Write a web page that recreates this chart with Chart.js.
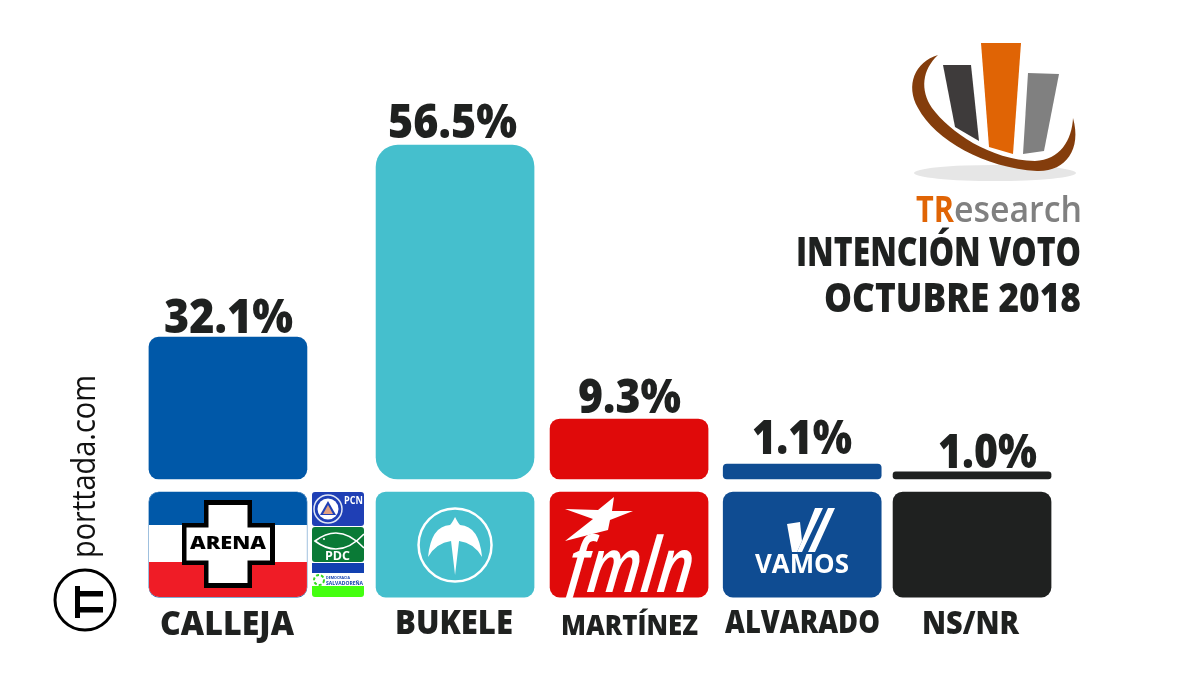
<!DOCTYPE html>
<html lang="es">
<head>
<meta charset="utf-8">
<title>Intención voto octubre 2018</title>
<script src="https://cdn.jsdelivr.net/npm/chart.js@4/dist/chart.umd.min.js"></script>
<style>
  html, body { margin: 0; background: #fff; }
  canvas { display: block; }
</style>
</head>
<body>
<canvas id="grafico" width="1200" height="700"></canvas>
<script>
const candidatos = ['CALLEJA', 'BUKELE', 'MARTÍNEZ', 'ALVARADO', 'NS/NR'];
const etiquetas = ['32.1%', '56.5%', '9.3%', '1.1%', '1.0%'];
// las barras del original no son proporcionales a su etiqueta: alturas
const alturas = [24.0, 56.5, 10.15, 2.54, 1.2];
const columnas = [0, 1.305, 2.305, 3.3, 4.276];
const fondoLogo = [-2.2, -20];

const colores = ['#0058a8', '#45bfcd', '#e00a0a', '#0f4c92', '#1f2120'];
const radios = [10, 22, 10, 4, 3];
const NEGRO = '#1f2120';
const FUENTE = '"Open Sans"';

// texto ajustado a un ancho dado, como en el original (tipografia mas estrecha)
function texto(ctx, str, x0, x1, base, font, color) {
  ctx.save();
  ctx.font = font;
  ctx.fillStyle = color;
  ctx.textAlign = 'left';
  ctx.textBaseline = 'alphabetic';
  const w = ctx.measureText(str).width;
  ctx.translate(x0, base);
  ctx.scale((x1 - x0) / w, 1);
  ctx.fillText(str, 0, 0);
  ctx.restore();
}

function poligono(ctx, pts, color) {
  ctx.fillStyle = color;
  ctx.beginPath();
  pts.forEach((p, i) => i ? ctx.lineTo(p[0], p[1]) : ctx.moveTo(p[0], p[1]));
  ctx.closePath();
  ctx.fill();
}

function dibujarTR(ctx) {
  ctx.fillStyle = '#e6e6e6';
  ctx.beginPath();
  ctx.ellipse(995, 173, 81, 8, 0, 0, Math.PI * 2);
  ctx.fill();

  poligono(ctx, [[943, 65], [971, 65], [979, 141], [955, 127]], '#3e3b3b');
  poligono(ctx, [[981, 43], [1021, 43], [1013, 154], [989, 147]], '#e06405');
  poligono(ctx, [[1028, 73], [1059, 74], [1044, 151], [1023, 154]], '#808080');

  ctx.fillStyle = '#843d0c';
  ctx.beginPath();
  ctx.moveTo(938, 55);
  ctx.bezierCurveTo(915, 62, 905, 85, 918, 108);
  ctx.bezierCurveTo(935, 140, 985, 168, 1037, 171);
  ctx.bezierCurveTo(1065, 172, 1082, 150, 1073, 118);
  ctx.bezierCurveTo(1072, 140, 1060, 160, 1035, 161);
  ctx.bezierCurveTo(990, 160, 950, 132, 932, 108);
  ctx.bezierCurveTo(920, 90, 922, 70, 938, 55);
  ctx.closePath();
  ctx.fill();

  texto(ctx, 'TR', 916, 954, 222, '700 36px ' + FUENTE, '#e06405');
  texto(ctx, 'esearch', 954, 1082, 222, '600 36px ' + FUENTE, '#808080');
}

function dibujarArena(ctx, el) {
  const x = el.x - el.width / 2, w = el.width;
  ctx.save();
  ctx.beginPath();
  ctx.roundRect(x, 492, w, 105, 10);
  ctx.clip();
  ctx.fillStyle = '#fff';
  ctx.fillRect(x, 492, w, 105);
  ctx.fillStyle = '#0058a8';
  ctx.fillRect(x, 492, w, 33);
  ctx.fillStyle = '#ef1c26';
  ctx.fillRect(x, 562, w, 35);
  ctx.restore();

  const cruz = (a, b, c, d, e, f, g, h, color) => poligono(ctx, [
    [a, c], [b, c], [b, e], [f, e], [f, g], [b, g], [b, d], [a, d], [a, g], [h, g], [h, e], [a, e]
  ], color);
  cruz(204, 252, 500, 588, 523, 275, 565, 182, '#000');
  cruz(208.5, 247.5, 505, 583, 527.5, 270, 560.5, 186.5, '#fff');
  texto(ctx, 'ARENA', 190, 266, 549, '800 17px ' + FUENTE, '#000');
}

function dibujarCoalicion(ctx) {
  ctx.fillStyle = '#1f3fb5';
  ctx.beginPath();
  ctx.roundRect(312, 492, 52, 34, 3);
  ctx.fill();
  ctx.strokeStyle = '#dfe6f5';
  ctx.lineWidth = 1.5;
  ctx.beginPath();
  ctx.arc(328, 509, 14, 0, Math.PI * 2);
  ctx.stroke();
  ctx.fillStyle = '#fff';
  ctx.beginPath();
  ctx.arc(328, 509, 10.5, 0, Math.PI * 2);
  ctx.fill();
  poligono(ctx, [[328, 501], [336, 515], [320, 515]], '#1f3fb5');
  poligono(ctx, [[328, 505], [333, 514], [323, 514]], '#e0a080');
  texto(ctx, 'PCN', 344, 363, 504, '700 10px ' + FUENTE, '#fff');

  ctx.fillStyle = '#0a7a36';
  ctx.beginPath();
  ctx.roundRect(312, 527, 52, 35, 3);
  ctx.fill();
  ctx.strokeStyle = '#fff';
  ctx.lineWidth = 1.6;
  ctx.beginPath();
  ctx.moveTo(364, 548);
  ctx.quadraticCurveTo(340, 522, 315, 541);
  ctx.quadraticCurveTo(340, 560, 364, 534);
  ctx.stroke();
  ctx.fillStyle = '#fff';
  ctx.beginPath();
  ctx.arc(324, 539, 1, 0, Math.PI * 2);
  ctx.fill();
  texto(ctx, 'PDC', 325, 350, 560, '700 13px ' + FUENTE, '#fff');

  ctx.fillStyle = '#1240b0';
  ctx.fillRect(312, 563, 52, 10);
  ctx.fillStyle = '#44ff10';
  ctx.beginPath();
  ctx.roundRect(312, 573, 52, 24, 3);
  ctx.fill();
  ctx.fillStyle = '#fff';
  ctx.fillRect(312, 573, 52, 13);
  ctx.strokeStyle = '#35d820';
  ctx.lineWidth = 2;
  ctx.setLineDash([3, 2]);
  ctx.beginPath();
  ctx.arc(319, 580, 5, 0, Math.PI * 2);
  ctx.stroke();
  ctx.setLineDash([]);
  texto(ctx, 'DEMOCRACIA', 326, 350, 579, '700 4px ' + FUENTE, '#1240b0');
  texto(ctx, 'SALVADOREÑA', 326, 363, 585, '700 5px ' + FUENTE, '#1240b0');
}

function dibujarNuevasIdeas(ctx, el) {
  const cx = el.x;
  ctx.strokeStyle = '#fff';
  ctx.lineWidth = 2.5;
  ctx.beginPath();
  ctx.arc(cx, 545, 36.5, 0, Math.PI * 2);
  ctx.stroke();
  ctx.fillStyle = '#fff';
  ctx.beginPath();
  ctx.moveTo(cx, 517);
  ctx.quadraticCurveTo(cx + 3, 523, cx + 5, 525);
  ctx.quadraticCurveTo(cx + 24, 526, cx + 27, 557);
  ctx.quadraticCurveTo(cx + 19, 543, cx + 4, 541);
  ctx.lineTo(cx, 575);
  ctx.lineTo(cx - 4, 541);
  ctx.quadraticCurveTo(cx - 19, 543, cx - 27, 557);
  ctx.quadraticCurveTo(cx - 24, 526, cx - 5, 525);
  ctx.quadraticCurveTo(cx - 3, 523, cx, 517);
  ctx.closePath();
  ctx.fill();
}

function dibujarFmln(ctx) {
  poligono(ctx, [
    [614, 497], [612, 511], [633, 511], [610, 520], [608, 530], [565, 541],
    [593, 519], [565, 509], [598, 510]
  ], '#fff');
  // el logo es mas inclinado que la cursiva de la fuente
  ctx.save();
  ctx.transform(1, 0, -0.12, 1, 70, 0);
  texto(ctx, 'fmln', 566, 692, 592, 'italic 600 76px ' + FUENTE, '#fff');
  ctx.restore();
}

function dibujarVamos(ctx) {
  poligono(ctx, [[787, 524], [800, 522], [802, 541], [797, 552], [792, 552]], '#fff');
  poligono(ctx, [[802, 541], [815, 508], [823, 508], [802, 552], [797, 552]], '#fff');
  poligono(ctx, [[828, 508], [835, 508], [815, 552], [808, 552]], '#fff');
  texto(ctx, 'VAMOS', 755, 849, 573, '700 26px ' + FUENTE, '#fff');
}

function dibujarPorttada(ctx) {
  ctx.save();
  ctx.translate(95, 558);
  ctx.rotate(-Math.PI / 2);
  texto(ctx, 'porttada.com', 0, 183, 0, '400 33px ' + FUENTE, '#111');
  ctx.restore();

  ctx.strokeStyle = '#000';
  ctx.lineWidth = 3;
  ctx.beginPath();
  ctx.arc(85, 600, 30, 0, Math.PI * 2);
  ctx.stroke();
  ctx.fillStyle = '#000';
  ctx.fillRect(75, 586, 5, 32);
  ctx.fillRect(80, 591, 23, 5.5);
  ctx.fillRect(80, 607, 23, 5.5);
}

const posEtiquetas = [[164, 293, 333], [388, 517, 138], [578, 681, 413], [752, 852, 454], [938, 1037, 468]];
const posNombres = [[160, 294, 635, 33], [395, 513, 634, 33], [561, 698, 635, 29], [725, 880, 633, 31], [922, 1019, 634, 31]];

const decoracion = {
  id: 'decoracion',
  afterDatasetsDraw(chart) {
    const ctx = chart.ctx;
    const logos = chart.getDatasetMeta(1).data;
    ctx.save();
    dibujarArena(ctx, logos[0]);
    dibujarCoalicion(ctx);
    dibujarNuevasIdeas(ctx, logos[1]);
    dibujarFmln(ctx);
    dibujarVamos(ctx);
    dibujarPorttada(ctx);
    dibujarTR(ctx);

    etiquetas.forEach((et, i) => {
      const p = posEtiquetas[i];
      texto(ctx, et, p[0], p[1], p[2], '800 47px ' + FUENTE, NEGRO);
    });
    candidatos.forEach((nombre, i) => {
      const p = posNombres[i];
      texto(ctx, nombre, p[0], p[1], p[2], '800 ' + p[3] + 'px ' + FUENTE, NEGRO);
    });
    texto(ctx, 'INTENCIÓN VOTO', 796, 1081, 266, '800 40px ' + FUENTE, NEGRO);
    texto(ctx, 'OCTUBRE 2018', 824, 1081, 312, '800 40px ' + FUENTE, NEGRO);
    ctx.restore();
  }
};

new Chart(document.getElementById('grafico'), {
  type: 'bar',
  data: {
    datasets: [
      {
        label: 'Intención de voto',
        data: columnas.map((c, i) => ({ x: c, y: alturas[i] })),
        backgroundColor: colores,
        borderRadius: radios,
        borderSkipped: false,
        barThickness: 158
      },
      {
        label: 'Logos',
        data: columnas.map((c) => ({ x: c, y: fondoLogo })),
        backgroundColor: colores,
        borderRadius: 10,
        borderSkipped: false,
        barThickness: 158
      }
    ]
  },
  options: {
    responsive: false,
    animation: false,
    devicePixelRatio: 1,
    layout: { padding: 0 },
    plugins: { legend: { display: false }, tooltip: { enabled: false } },
    scales: {
      x: { type: 'linear', min: -1.31, max: 5.586, display: false, offset: false, grid: { display: false } },
      y: { min: -37.4, max: 81.05, display: false, grid: { display: false } }
    },
    datasets: { bar: { grouped: false } }
  },
  plugins: [decoracion]
});
</script>
</body>
</html>
